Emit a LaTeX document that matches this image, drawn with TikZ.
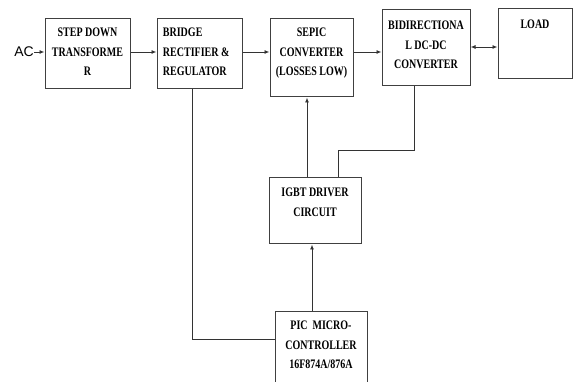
\documentclass[tikz,border=0pt]{standalone}
\usepackage{fontspec}
\setmainfont{Liberation Serif}
\newfontfamily\blockfont[FakeStretch=0.77]{Liberation Serif}
\newfontfamily\acfont{Liberation Sans}
\usetikzlibrary{positioning,arrows.meta}
\begin{document}
\begin{tikzpicture}[x=1pt,y=1pt,>={Latex[length=5pt,width=4pt]},
            line width=0.9pt,draw=black!80,
            block/.style={rectangle,draw=black!75,line width=1pt,inner sep=0pt},
            block text/.style={inner sep=0pt,align=center,text=black,
              font=\blockfont\bfseries\fontsize{13}{19.5}\selectfont}]

        \useasboundingbox (0,0) rectangle (573,-382);

        % Define blocks
        \node[block,minimum width=85,minimum height=70] (stepdown) at (87.5,-54) {};
        \node[block,minimum width=85,minimum height=70] (bridge) at (199.5,-54) {};
        \node[block,minimum width=83,minimum height=78] (sepic) at (311.5,-58) {};
        \node[block,minimum width=88,minimum height=76] (bidir) at (426,-48) {};
        \node[block,minimum width=74,minimum height=70] (load) at (535,-44) {};
        \node[block,minimum width=92,minimum height=66] (igbt) at (315,-211) {};
        \node[block,minimum width=92,minimum height=90] (pic) at (321,-356) {};

        % Block texts
        \node[block text,below=9pt of stepdown.north] (stepdowntxt) {STEP DOWN\\TRANSFORME\\R};
        \node[block text,align=left,anchor=north west] (bridgetxt) at ([xshift=6pt,yshift=-9pt]bridge.north west) {BRIDGE\\RECTIFIER \&\\REGULATOR};
        \node[block text,below=9pt of sepic.north] (sepictxt) {SEPIC\\CONVERTER\\(LOSSES LOW)};
        \node[block text,below=11pt of bidir.north] (bidirtxt) {BIDIRECTIONA\\L DC-DC\\CONVERTER};
        \node[block text,below=11pt of load.north] (loadtxt) {LOAD};
        \node[block text,below=10pt of igbt.north] (igbttxt) {IGBT DRIVER\\CIRCUIT};
        \node[block text,below=10pt of pic.north] (pictxt) {PIC\ \ MICRO-\\CONTROLLER\\16F874A/876A};
        \node[inner sep=0pt,font=\acfont\fontsize{14}{16}\selectfont] (ac) at (24,-52) {AC};

        % Rows and columns of the connectors
        \coordinate (row) at (0,-52);
        \coordinate (loadrow) at (0,-47);
        \coordinate (feedcol) at (307,0);
        \coordinate (ctrlcol) at (312,0);
        \coordinate (bend) at (338,-150);
        \coordinate (drop) at (192,-339);

        % Draw edges
        \path[->]
            (ac.east) edge (stepdown.west |- row)
            (stepdown.east |- row) edge (bridge.west |- row)
            (bridge.east |- row) edge (sepic.west |- row)
            (sepic.east |- row) edge (bidir.west |- row)
            (igbt.north -| feedcol) edge (sepic.south -| feedcol)
            (pic.north -| ctrlcol) edge (igbt.south -| ctrlcol);
        \draw[<->] (bidir.east |- loadrow) -- (load.west |- loadrow);
        \draw ([xshift=-12pt]bidir.south) |- (bend) -- (igbt.north -| bend);
        \draw (bridge.south -| drop) |- (pic.west |- drop);

        \end{tikzpicture}
\end{document}
